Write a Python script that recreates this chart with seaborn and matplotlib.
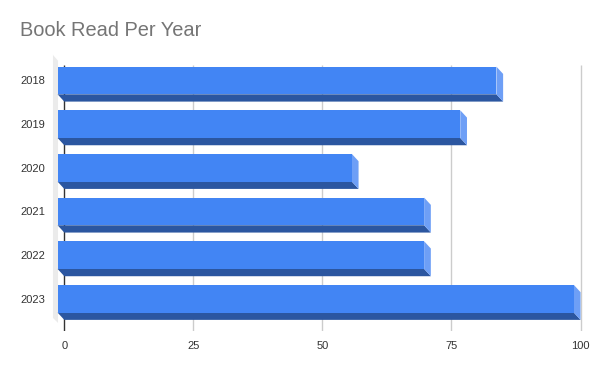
import numpy as np
import pandas as pd
import matplotlib
matplotlib.use('Agg')
import matplotlib.pyplot as plt
import seaborn as sns

# data
years = ['2018', '2019', '2020', '2021', '2022', '2023']
books = [85, 78, 57, 71, 71, 100]
x_ticks = [0, 25, 50, 75, 100]

TITLE = 'Book Read Per Year'
FRONT = '#4285f4'
BOTTOM = '#2b56a0'
SIDE = '#6e9ff6'
WALL = '#ebebeb'

# 3d depth in data units (about 7 px each way)
DX = 1.3
DY = 0.167
BAR_H = 0.634

sns.set_style('white')
plt.rcParams['font.family'] = ['Liberation Sans', 'DejaVu Sans']

df = pd.DataFrame({'year': years, 'books': books})

fig = plt.figure(figsize=(6, 3.71), dpi=100)
ax = fig.add_axes([0.0848, 0.1065, 0.9, 0.7531])

sns.barplot(data=df, x='books', y='year', orient='h', color=FRONT,
            width=BAR_H, saturation=1, ax=ax, zorder=3)

# front faces sit in front of the value plane -> shift left
for p in ax.patches:
    p.set_x(p.get_x() - DX)
    p.set_linewidth(0)

# side and bottom faces
for i, v in enumerate(books):
    top = i - BAR_H / 2
    bot = i + BAR_H / 2
    ax.fill([-DX, v - DX, v, 0], [bot, bot, bot + DY, bot + DY],
            color=BOTTOM, lw=0, zorder=2)
    ax.fill([v - DX, v, v, v - DX], [top, top + DY, bot + DY, bot],
            color=SIDE, lw=0, zorder=2)

# left wall of the 3d box
ax.fill([-2.19, -1.22, -1.22, -2.19], [-0.584, -0.453, 5.554, 5.44],
        color=WALL, lw=0, zorder=0)

# grid and zero axis
ax.vlines(x_ticks[1:], -0.355, 5.745, color='#cccccc', lw=1, zorder=0)
ax.vlines([0], -0.355, 5.745, color='#333333', lw=1, zorder=1)

ax.set_xlim(-2.6, 102)
ax.set_ylim(5.75, -0.65)
ax.set_xticks(x_ticks)
ax.set_xticklabels([str(t) for t in x_ticks])
ax.tick_params(axis='x', length=0, pad=6.5, labelsize=8, labelcolor='#333333')
ax.tick_params(axis='y', length=0, pad=4.2, labelsize=8, labelcolor='#333333')
ax.set_xlabel('')
ax.set_ylabel('')
for s in ax.spines.values():
    s.set_visible(False)
ax.grid(False)

fig.text(20 / 600, 1 - 31 / 371, TITLE, fontsize=14.4, color='#757575',
         ha='left', va='center')

fig.savefig('out.png', dpi=100)
